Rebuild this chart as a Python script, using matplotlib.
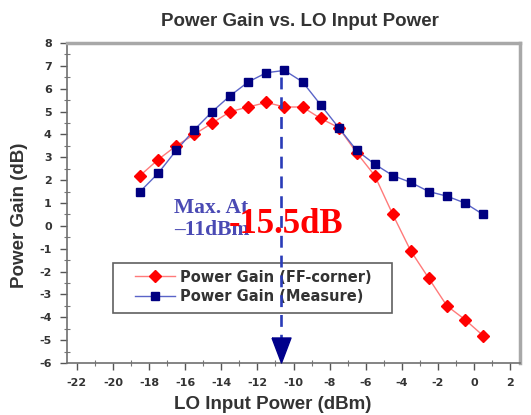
import matplotlib
matplotlib.use("Agg")
import matplotlib.pyplot as plt
from matplotlib.ticker import MultipleLocator
from matplotlib.lines import Line2D
from matplotlib.patches import Rectangle

plt.rcParams["axes.unicode_minus"] = False

# LO input power sweep (dBm)
lo_power = [-18.5, -17.5, -16.5, -15.5, -14.5, -13.5, -12.5, -11.5, -10.5, -9.5,
            -8.5, -7.5, -6.5, -5.5, -4.5, -3.5, -2.5, -1.5, -0.5, 0.5]
# Simulated gain, FF corner (dB)
gain_ff = [2.2, 2.9, 3.5, 4.0, 4.5, 5.0, 5.2, 5.4, 5.2, 5.2,
           4.7, 4.3, 3.2, 2.2, 0.5, -1.1, -2.3, -3.5, -4.1, -4.8]
# Measured gain (dB)
gain_meas = [1.5, 2.3, 3.3, 4.2, 5.0, 5.7, 6.3, 6.7, 6.8, 6.3,
             5.3, 4.3, 3.3, 2.7, 2.2, 1.9, 1.5, 1.3, 1.0, 0.5]

series_labels = ["Power Gain (FF-corner)", "Power Gain (Measure)"]
peak_lo = -10.7
peak_note = ["Max. At", "\u201311dBm"]
loss_note = "-15.5dB"

fig = plt.figure(figsize=(5.31, 4.15), dpi=100)
ax = fig.add_axes([67 / 531, 52 / 415, 453 / 531, 320 / 415])

red_line, red_mk = "#ff7a7a", "#ff0000"
blue_line, blue_mk = "#5a64c8", "#000080"

ax.plot(lo_power, gain_ff, color=red_line, lw=1.0, zorder=2)
ax.plot(lo_power, gain_ff, ls="none", marker="D", ms=6.5, mfc=red_mk, mec=red_mk, zorder=3)
ax.plot(lo_power, gain_meas, color=blue_line, lw=1.0, zorder=2)
ax.plot(lo_power, gain_meas, ls="none", marker="s", ms=6, mfc=blue_mk, mec=blue_mk, zorder=3)

# dashed marker line down to the peak LO power
ax.plot([peak_lo, peak_lo], [6.5, -4.9], color="#2a3cb8", lw=1.9,
        dashes=(4.5, 3.0), zorder=4)
tri = [(-0.76, 1.0), (0.76, 1.0), (0.0, -1.0), (-0.76, 1.0)]
ax.plot([peak_lo], [-5.42], marker=tri, ms=18, mfc="#00008b", mec="#00008b",
        ls="none", zorder=5, clip_on=False)

ax.text(-16.6, 0.78, peak_note[0], family="Liberation Serif", fontsize=15.5,
        fontweight="bold", color="#4a4ab4", va="center", ha="left", zorder=6)
ax.text(-16.6, -0.2, peak_note[1], family="Liberation Serif", fontsize=15.5,
        fontweight="bold", color="#4a4ab4", va="center", ha="left", zorder=6)
ax.text(-13.6, 0.05, loss_note, family="Liberation Serif", fontsize=25,
        fontweight="bold", color="#ff0000", va="center", ha="left", zorder=7)

ax.set_xlim(-22.55, 2.55)
ax.set_ylim(-6, 8)
ax.xaxis.set_major_locator(MultipleLocator(2))
ax.xaxis.set_minor_locator(MultipleLocator(1))
ax.yaxis.set_major_locator(MultipleLocator(1))
ax.yaxis.set_minor_locator(MultipleLocator(0.5))
ax.tick_params(which="major", direction="out", length=5, width=1.0,
               color="#555555", labelsize=8, labelcolor="#333333", pad=6)
ax.tick_params(which="minor", direction="inout", length=4, width=0.8, color="#777777")
for lab in ax.get_xticklabels() + ax.get_yticklabels():
    lab.set_fontweight("bold")
    lab.set_family("DejaVu Sans")

for side in ("left", "bottom"):
    ax.spines[side].set_color("#707070")
    ax.spines[side].set_linewidth(1.2)
for side in ("top", "right"):
    ax.spines[side].set_color("#a8a8a8")
    ax.spines[side].set_linewidth(2.5)

fig.text(300 / 531, 1 - 22 / 415, "Power Gain vs. LO Input Power", ha="center",
         va="center", fontsize=13.5, fontweight="bold", color="#333333",
         family="Liberation Sans")
fig.text(273 / 531, 1 - 404 / 415, "LO Input Power (dBm)", ha="center",
         va="center", fontsize=13.5, fontweight="bold", color="#333333",
         family="Liberation Sans")
fig.text(20 / 531, 1 - 215 / 415, "Power Gain (dB)", ha="center",
         va="center", rotation=90, fontsize=13.5, fontweight="bold",
         color="#333333", family="Liberation Sans")

# legend box drawn separately so its padding can be set independently
ax.add_patch(Rectangle((0.1015, 0.156), 0.6159, 0.1565, transform=ax.transAxes,
                       facecolor="white", edgecolor="#606060", lw=1.2, zorder=1))
handles = [
    Line2D([], [], color=red_line, lw=1.0, marker="D", ms=6.5, mfc=red_mk, mec=red_mk),
    Line2D([], [], color=blue_line, lw=1.0, marker="s", ms=6, mfc=blue_mk, mec=blue_mk),
]
leg = ax.legend(handles, series_labels, loc="upper left",
                bbox_to_anchor=(0.150, 0.292), frameon=False, handlelength=2.75,
                borderpad=0.0, borderaxespad=0.0, labelspacing=0.3,
                handletextpad=0.35,
                prop={"family": "DejaVu Sans", "weight": "bold", "size": 10.5})
leg.set_zorder(1.5)
for t in leg.get_texts():
    t.set_color("#333333")

fig.savefig("out.png", dpi=100)
